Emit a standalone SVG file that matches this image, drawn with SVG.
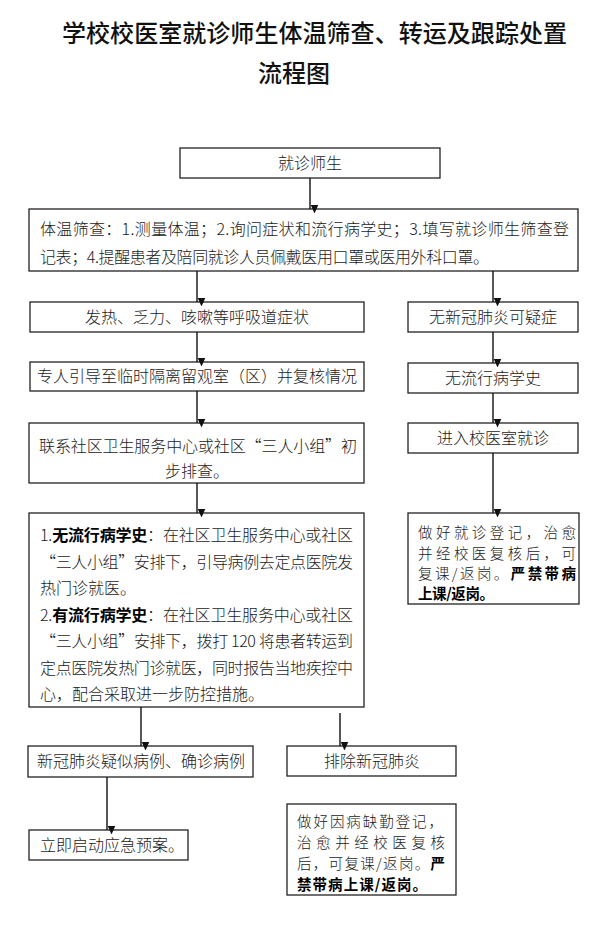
<svg xmlns="http://www.w3.org/2000/svg" width="607" height="930" viewBox="0 0 607 930">
<style>
.bg{fill:#fff}
.box{fill:#fff;stroke:#222;stroke-width:1.3}
.t{font-family:"Noto Sans CJK SC","Noto Sans",sans-serif;font-size:16px;fill:#1a1a1a;font-weight:300}
.s{font-size:14.5px}
.c{text-anchor:middle}
.b{font-weight:700;fill:#000}
.title{font-family:"Noto Sans CJK SC","Noto Sans",sans-serif;font-size:24px;fill:#111;font-weight:500}
.conn{stroke:#111;stroke-width:1.4;fill:none;marker-end:url(#ah)}
</style>
<defs>
<marker id="ah" markerUnits="userSpaceOnUse" markerWidth="8" markerHeight="9" refX="4" refY="9" orient="auto-start-reverse" viewBox="0 0 8 9">
<path d="M0,0 L8,0 L4,9 z" fill="#111" transform="rotate(-90 4 4.5)"/>
</marker>
</defs>
<rect class="bg" x="0" y="0" width="607" height="930"/>
<g id="title">
<text class="title" x="62" y="42" textLength="505" lengthAdjust="spacing">学校校医室就诊师生体温筛查、转运及跟踪处置</text>
<text class="title c" x="294" y="82">流程图</text>
</g>
<g id="n1"><rect class="box" x="180" y="148" width="260" height="30"/><text class="t c" x="310" y="169">就诊师生</text></g>
<g id="n2"><rect class="box" x="29" y="209" width="549" height="62"/>
<text class="t" x="40" y="235" textLength="529" lengthAdjust="spacing">体温筛查：1.测量体温；2.询问症状和流行病学史；3.填写就诊师生筛查登</text>
<text class="t" x="40" y="263" textLength="449" lengthAdjust="spacing">记表；4.提醒患者及陪同就诊人员佩戴医用口罩或医用外科口罩。</text></g>
<g id="n3"><rect class="box" x="30" y="302" width="334" height="30"/><text class="t c" x="197" y="323">发热、乏力、咳嗽等呼吸道症状</text></g>
<g id="n4"><rect class="box" x="408" y="302" width="170" height="30"/><text class="t c" x="493" y="323">无新冠肺炎可疑症</text></g>
<g id="n5"><rect class="box" x="30" y="362" width="334" height="29"/><text class="t c" x="197" y="382">专人引导至临时隔离留观室（区）并复核情况</text></g>
<g id="n6"><rect class="box" x="408" y="363" width="170" height="30"/><text class="t c" x="493" y="384">无流行病学史</text></g>
<g id="n7"><rect class="box" x="29" y="423" width="335" height="60"/>
<text class="t" x="39" y="452" textLength="318" lengthAdjust="spacing">联系社区卫生服务中心或社区“三人小组”初</text>
<text class="t" x="165" y="477">步排查。</text></g>
<g id="n8"><rect class="box" x="408" y="423" width="170" height="30"/><text class="t c" x="493" y="444">进入校医室就诊</text></g>
<g id="n9"><rect class="box" x="29" y="513" width="335" height="194"/>
<text class="t" x="40" y="541" textLength="313" lengthAdjust="spacing">1.<tspan class="b">无流行病学史</tspan>：在社区卫生服务中心或社区</text>
<text class="t" x="40" y="568" textLength="313" lengthAdjust="spacing">“三人小组”安排下，引导病例去定点医院发</text>
<text class="t" x="40" y="594">热门诊就医。</text>
<text class="t" x="40" y="621" textLength="313" lengthAdjust="spacing">2.<tspan class="b">有流行病学史</tspan>：在社区卫生服务中心或社区</text>
<text class="t" x="40" y="647" textLength="313" lengthAdjust="spacing">“三人小组”安排下，拨打 120 将患者转运到</text>
<text class="t" x="40" y="674" textLength="313" lengthAdjust="spacing">定点医院发热门诊就医，同时报告当地疾控中</text>
<text class="t" x="40" y="700">心，配合采取进一步防控措施。</text></g>
<g id="n10"><rect class="box" x="408" y="513" width="171" height="91"/>
<text class="t s" x="418" y="538" textLength="158" lengthAdjust="spacing">做好就诊登记，治愈</text>
<text class="t s" x="418" y="559" textLength="158" lengthAdjust="spacing">并经校医复核后，可</text>
<text class="t s" x="418" y="579" textLength="158" lengthAdjust="spacing">复课/返岗。<tspan class="b">严禁带病</tspan></text>
<text class="t s b" x="418" y="599" textLength="76" lengthAdjust="spacing">上课/返岗。</text></g>
<g id="n11"><rect class="box" x="28" y="746" width="225" height="31"/><text class="t c" x="141" y="767">新冠肺炎疑似病例、确诊病例</text></g>
<g id="n12"><rect class="box" x="287" y="746" width="169" height="30"/><text class="t c" x="372" y="767">排除新冠肺炎</text></g>
<g id="n13"><rect class="box" x="29" y="830" width="159" height="30"/><text class="t" x="40" y="851">立即启动应急预案。</text></g>
<g id="n14"><rect class="box" x="287" y="804" width="169" height="91"/>
<text class="t s" x="297" y="827" textLength="146" lengthAdjust="spacing">做好因病缺勤登记，</text>
<text class="t s" x="297" y="848" textLength="148" lengthAdjust="spacing">治愈并经校医复核</text>
<text class="t s" x="297" y="869" textLength="148" lengthAdjust="spacing">后，可复课/返岗。<tspan class="b">严</tspan></text>
<text class="t s b" x="297" y="890" textLength="130" lengthAdjust="spacing">禁带病上课/返岗。</text></g>
<g id="connectors">
<line class="conn" x1="310" y1="178" x2="310" y2="209"/>
<line class="conn" x1="197" y1="271" x2="197" y2="302"/>
<line class="conn" x1="493" y1="271" x2="493" y2="302"/>
<line class="conn" x1="197" y1="332" x2="197" y2="362"/>
<line class="conn" x1="493" y1="332" x2="493" y2="363"/>
<line class="conn" x1="197" y1="391" x2="197" y2="423"/>
<line class="conn" x1="493" y1="393" x2="493" y2="423"/>
<line class="conn" x1="197" y1="483" x2="197" y2="513"/>
<line class="conn" x1="493" y1="453" x2="493" y2="513"/>
<line class="conn" x1="141" y1="707" x2="141" y2="746"/>
<line class="conn" x1="340" y1="713" x2="340" y2="746"/>
<line class="conn" x1="107" y1="777" x2="107" y2="830"/>
</g>
</svg>
